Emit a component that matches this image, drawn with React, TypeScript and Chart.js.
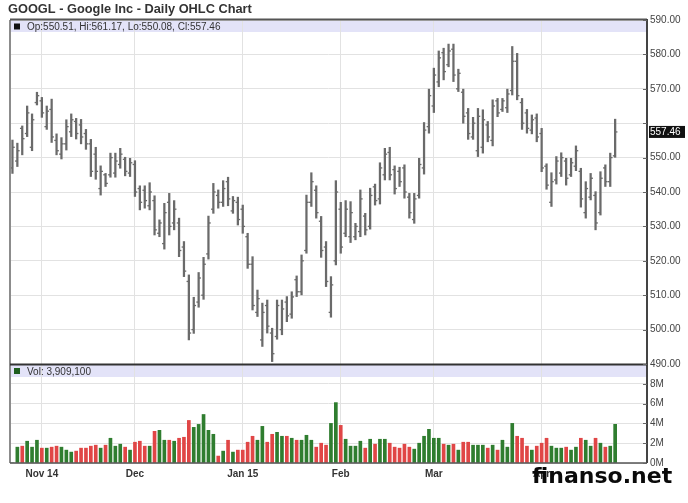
import React, { useEffect, useRef } from "react";
import { Chart, registerables } from "chart.js";

Chart.register(...registerables);

const TITLE = "GOOGL - Google Inc - Daily OHLC Chart";
const LAST_QUOTE = "Op:550.51, Hi:561.17, Lo:550.08, Cl:557.46";
const LAST_CLOSE = 557.46;
const VOLUME_LABEL = "Vol: 3,909,100";
const WATERMARK = "finanso.net";

const MONTH_INDEX = [6, 25, 47, 67, 86, 108];
const MONTH_LABELS = ["Nov 14", "Dec", "Jan 15", "Feb", "Mar", "Apr"];

const HIGH = [
  555.1, 554.2, 559.2, 565, 562.7, 569, 567.5, 565, 567, 556.9,
  555.8, 561, 562.7, 561.4, 561.1, 558.2, 555.3, 553, 547.6, 545.4,
  551.3, 551.3, 552.7, 550.1, 549.8, 549.1, 541.8, 541.8, 542.7, 538.9,
  531.9, 536.7, 539.6, 537.5, 532.4, 525.6, 515.9, 509.4, 516.6, 521,
  533, 542.5, 540.6, 543.3, 544.3, 538.7, 538.5, 536.2, 528, 521.2,
  511.5, 507.7, 508.6, 500.4, 508.6, 508.6, 509.6, 511, 515.6, 521.7,
  539.1, 545.6, 541.8, 532.9, 525.6, 515.4, 543.3, 537, 537.5, 537.2,
  530.9, 540.6, 533.8, 541.1, 542.3, 548.5, 552.7, 553, 547.6, 547.2,
  547.9, 539.6, 539.6, 549.8, 560.2, 569.9, 576, 581, 581.8, 583,
  583, 575.7, 569.9, 564.3, 561.7, 564.3, 563.9, 560.5, 566.8, 567.2,
  567.2, 569.9, 582.3, 580.3, 567.2, 564, 562.4, 562.7, 558.5, 548.2,
  545.6, 550.3, 551.4, 549.8, 549.8, 553.4, 546.9, 543, 545.4, 540.1,
  545.9, 547.9, 551.3, 561.17,
];

const LOW = [
  545.4, 547.4, 550.8, 556.1, 552, 565.3, 561.7, 558.2, 554.4, 550.8,
  549.6, 552.2, 556.1, 555.4, 554, 552.4, 544.5, 543.7, 539.1, 541.6,
  544.3, 544.3, 546.9, 544.7, 544.5, 538.7, 534.8, 535.3, 534.8, 527.5,
  527, 523.4, 527.5, 529, 521.2, 515.4, 497, 498.9, 506.5, 508.8,
  520.5, 533.8, 535.3, 535.8, 536, 533.8, 530.4, 528, 517.8, 505.7,
  503.8, 495.1, 499, 490.7, 497.2, 498.5, 502.3, 503.3, 509.6, 510.1,
  522.2, 535.8, 532.4, 521, 512.5, 503.6, 518.8, 522.2, 527, 525.3,
  526.1, 527, 527.5, 529.2, 536.2, 536.5, 543.5, 543.5, 539.4, 541.6,
  538.2, 532.4, 530.9, 538.2, 545.2, 557.1, 563.1, 570.6, 572.6, 576.4,
  572.1, 569.2, 560, 555.3, 555.3, 550.3, 551.3, 554.6, 553.4, 561.9,
  563.4, 563.1, 568.2, 566.8, 558.2, 557.1, 556.9, 554.6, 545.9, 540.8,
  535.8, 542.3, 544.5, 542, 544.5, 546.2, 535.6, 532.4, 537.7, 529,
  533.3, 541.6, 541.6, 550.08,
];

const OPEN = [
  547, 549, 558.5, 557, 553, 566, 566.5, 559, 564, 555,
  551, 554, 557.5, 560.5, 559.5, 557, 554, 551, 541, 545,
  545, 545.5, 548, 549.5, 545.5, 548, 541, 540.5, 536, 537.5,
  528, 525, 537, 531, 531, 524, 514, 500, 508, 510,
  522, 535, 539, 537, 543, 534.5, 537, 535, 527, 519,
  505, 497, 507, 499, 498, 500, 508, 504.5, 514.5, 511,
  523, 537, 540.5, 531.5, 524, 505, 520, 535, 528, 527,
  527, 528.5, 533, 530, 541.5, 538, 545, 551.5, 546.5, 546,
  547, 538.5, 532, 539, 547, 559, 565, 572, 580.5, 577,
  581.5, 570, 569, 563, 556, 552, 553, 559.5, 555, 566.5,
  564, 564.5, 569.5, 578, 566, 563, 558, 561.5, 557, 547.5,
  537, 543.5, 545.5, 549, 545, 547.5, 546, 534, 538.5, 539,
  534, 547, 543, 550.51,
];

const CLOSE = [
  553, 552, 555.5, 563, 561, 568, 563, 563.5, 556, 552,
  554, 559, 561, 557, 556, 554, 546, 546, 546, 542.5,
  550, 549, 551, 546, 548.5, 540, 537, 537.5, 540, 529,
  531, 534, 530, 535, 523, 517, 499, 507, 515, 519,
  531, 540, 537, 541, 538, 537.5, 532, 530, 519, 507,
  509, 505, 501, 493, 507, 506, 504, 509.5, 511, 520,
  537, 543, 534, 523, 514, 513, 540, 524, 535, 534,
  530, 538, 529, 539, 537.5, 547, 551, 545, 541, 543,
  540, 534, 538, 548, 558, 568, 574, 579, 575, 581,
  574, 574.5, 562, 557, 560, 562, 561, 556, 565, 563,
  566.5, 568.5, 578, 568, 560, 558.5, 561, 556, 547, 542,
  543, 549, 550, 544, 548.5, 552, 538, 541, 544, 531,
  544, 543, 550, 557.46,
];

// volume in millions of shares
const VOLUME = [
  0, 1.6, 1.7, 2.2, 1.6, 2.3, 1.5, 1.5, 1.6, 1.7,
  1.6, 1.3, 1.1, 1.2, 1.5, 1.5, 1.7, 1.8, 1.5, 1.8,
  2.5, 1.7, 1.9, 1.6, 1.3, 2.1, 2.2, 1.7, 1.7, 3.2,
  3.3, 2.3, 2.3, 2.2, 2.5, 2.6, 4.3, 3.6, 3.9, 4.9,
  3.3, 2.9, 0.7, 1.2, 2.3, 1.1, 1.3, 1.3, 2.1, 2.7,
  2.3, 3.7, 2.1, 2.9, 3.1, 2.7, 2.7, 2.5, 2.3, 2.3,
  2.8, 2.3, 1.6, 2.0, 1.8, 4.0, 6.1, 3.8, 2.4, 1.7,
  1.7, 2.2, 1.5, 2.4, 1.9, 2.4, 2.4, 2.0, 1.6, 1.5,
  1.9, 1.6, 1.4, 2.0, 2.7, 3.4, 2.5, 2.5, 1.9, 1.8,
  1.9, 1.3, 2.1, 2.1, 1.8, 1.8, 1.8, 1.5, 1.8, 1.3,
  2.3, 1.6, 4.0, 2.7, 2.5, 1.7, 1.3, 1.7, 2.0, 2.5,
  1.7, 1.5, 1.5, 1.6, 1.3, 1.6, 2.5, 2.3, 1.7, 2.5,
  2.0, 1.6, 1.7, 3.909,
];

const BAR_COLOR = "#6a6a6a";
const UP_COLOR = "#2f7d2f";
const DOWN_COLOR = "#e04646";
const FONT = "'Liberation Sans', Arial, sans-serif";

export default function App() {
  const ref = useRef<HTMLCanvasElement>(null);

  useEffect(() => {
    const idx = HIGH.map((_, i) => i);
    const up = idx.map((i) => CLOSE[i] >= OPEN[i]);

    const decor = {
      id: "decor",
      beforeDraw(chart: any) {
        const { ctx, chartArea: ca } = chart;
        const y = chart.scales.y;
        const yv = chart.scales.yv;
        ctx.save();
        ctx.fillStyle = "#ffffff";
        ctx.fillRect(0, 0, chart.width, chart.height);
        ctx.fillStyle = "#e3e3f8";
        ctx.fillRect(ca.left, y.top, ca.right - ca.left, 12);
        ctx.fillRect(ca.left, yv.top, ca.right - ca.left, 13);
        ctx.restore();
      },
      afterDatasetsDraw(chart: any) {
        const { ctx, chartArea: ca } = chart;
        const y = chart.scales.y;
        const yv = chart.scales.yv;
        ctx.save();
        // borders
        ctx.strokeStyle = "#8c8c8c";
        ctx.lineWidth = 2;
        ctx.beginPath();
        ctx.moveTo(ca.left, ca.top);
        ctx.lineTo(ca.left, ca.bottom);
        ctx.stroke();
        ctx.strokeStyle = "#555";
        ctx.beginPath();
        ctx.moveTo(ca.left, ca.top - 0.5);
        ctx.lineTo(ca.right, ca.top - 0.5);
        ctx.stroke();
        ctx.strokeStyle = "#444";
        ctx.beginPath();
        ctx.moveTo(ca.right, ca.top - 1);
        ctx.lineTo(ca.right, ca.bottom);
        ctx.stroke();
        ctx.strokeStyle = "#333";
        ctx.beginPath();
        ctx.moveTo(ca.left, yv.top + 0.5);
        ctx.lineTo(ca.right, yv.top + 0.5);
        ctx.stroke();
        ctx.strokeStyle = "#555";
        ctx.lineWidth = 1.5;
        ctx.beginPath();
        ctx.moveTo(ca.left, ca.bottom);
        ctx.lineTo(ca.right, ca.bottom);
        ctx.stroke();
        // inner tick marks on right axis
        ctx.strokeStyle = "#666";
        ctx.lineWidth = 1;
        [y, yv].forEach((s: any) => {
          s.ticks.forEach((t: any) => {
            const py = Math.round(s.getPixelForValue(t.value)) + 0.5;
            ctx.beginPath();
            ctx.moveTo(ca.right - 4, py);
            ctx.lineTo(ca.right, py);
            ctx.stroke();
          });
        });
        // legends inside bands
        ctx.fillStyle = "#111";
        ctx.fillRect(ca.left + 4, y.top + 3.5, 6, 6);
        ctx.fillStyle = "#333";
        ctx.font = `10px ${FONT}`;
        ctx.textBaseline = "alphabetic";
        ctx.textAlign = "left";
        ctx.fillText(LAST_QUOTE, ca.left + 17, y.top + 10);
        ctx.fillStyle = "#1f5f1f";
        ctx.fillRect(ca.left + 4, yv.top + 4, 6, 6);
        ctx.fillStyle = "#333";
        ctx.fillText(VOLUME_LABEL, ca.left + 17, yv.top + 11);
        // last price box
        const ly = y.getPixelForValue(LAST_CLOSE);
        ctx.fillStyle = "#111";
        ctx.fillRect(ca.right + 2, ly - 6, 36, 12);
        ctx.fillStyle = "#fff";
        ctx.textBaseline = "middle";
        ctx.fillText(LAST_CLOSE.toFixed(2), ca.right + 3, ly);
        // title
        ctx.fillStyle = "#333";
        ctx.textBaseline = "alphabetic";
        ctx.font = `bold 12.8px ${FONT}`;
        ctx.fillText(TITLE, 8, 13);
        // watermark
        ctx.fillStyle = "#0a0a0a";
        ctx.font = "bold 22px 'DejaVu Sans', sans-serif";
        ctx.fillText(WATERMARK, 532, 483);
        ctx.restore();
      },
    };

    const chart = new Chart(ref.current as HTMLCanvasElement, {
      type: "bar",
      data: {
        datasets: [
          {
            type: "bar",
            data: idx.map((i) => ({ x: i, y: [LOW[i], HIGH[i]] })),
            yAxisID: "y",
            xAxisID: "x",
            backgroundColor: BAR_COLOR,
            barThickness: 1.6,
            grouped: false,
          } as any,
          {
            type: "line",
            data: idx.map((i) => ({ x: i, y: OPEN[i] })),
            yAxisID: "y",
            xAxisID: "x",
            showLine: false,
            pointStyle: "dash",
            pointRadius: 2.3,
            pointRotation: 180,
            pointBorderColor: BAR_COLOR,
            pointBorderWidth: 1.3,
          } as any,
          {
            type: "line",
            data: idx.map((i) => ({ x: i, y: CLOSE[i] })),
            yAxisID: "y",
            xAxisID: "x",
            showLine: false,
            pointStyle: "dash",
            pointRadius: 2.3,
            pointRotation: 0,
            pointBorderColor: BAR_COLOR,
            pointBorderWidth: 1.3,
          } as any,
          {
            type: "bar",
            data: idx.map((i) => ({ x: i, y: VOLUME[i] })),
            yAxisID: "yv",
            xAxisID: "x",
            backgroundColor: idx.map((i) => (up[i] ? UP_COLOR : DOWN_COLOR)),
            barThickness: 3,
            grouped: false,
          } as any,
        ],
      },
      options: {
        responsive: false,
        animation: false,
        events: [],
        layout: { padding: { left: 10, top: 20, right: 0, bottom: 0 } },
        plugins: {
          legend: { display: false },
          tooltip: { enabled: false },
          title: { display: false },
        },
        scales: {
          x: {
            type: "linear",
            position: "bottom",
            min: -0.5,
            max: 129.5,
            offset: false,
            grid: { color: "#e2e2e2", lineWidth: 1, drawTicks: false, offset: false },
            border: { display: false },
            afterBuildTicks: (s: any) => {
              s.ticks = MONTH_INDEX.map((v) => ({ value: v }));
            },
            afterFit: (s: any) => {
              s.height = 40;
            },
            ticks: {
              autoSkip: false,
              maxRotation: 0,
              padding: 5,
              color: "#333",
              font: { family: FONT, size: 10, weight: "bold" },
              callback: (_v: any, i: number) => MONTH_LABELS[i],
            },
          },
          y: {
            type: "linear",
            position: "right",
            stack: "right",
            stackWeight: 344,
            min: 490,
            max: 590,
            grid: { color: "#e2e2e2", lineWidth: 1, drawTicks: false },
            border: { display: false },
            afterFit: (s: any) => {
              s.width = 41;
            },
            ticks: {
              autoSkip: false,
              stepSize: 10,
              padding: 3,
              color: "#444",
              font: { family: FONT, size: 10 },
              callback: (v: any) => (Number(v) === 560 ? "" : Number(v).toFixed(2)),
            },
          },
          yv: {
            type: "linear",
            position: "right",
            stack: "right",
            stackWeight: 99,
            min: 0,
            max: 10,
            grid: { color: "#e2e2e2", lineWidth: 1, drawTicks: false },
            border: { display: false },
            afterFit: (s: any) => {
              s.width = 41;
            },
            ticks: {
              autoSkip: false,
              stepSize: 2,
              padding: 3,
              color: "#444",
              font: { family: FONT, size: 10 },
              callback: (v: any) => (Number(v) === 10 ? "" : `${v}M`),
            },
          },
        } as any,
      },
      plugins: [decor],
    });
    return () => chart.destroy();
  }, []);

  return (
    <div style={{ position: "fixed", left: 0, top: 0, width: 688, height: 503, background: "#fff" }}>
      <canvas ref={ref} width={688} height={503} style={{ display: "block" }} />
    </div>
  );
}
